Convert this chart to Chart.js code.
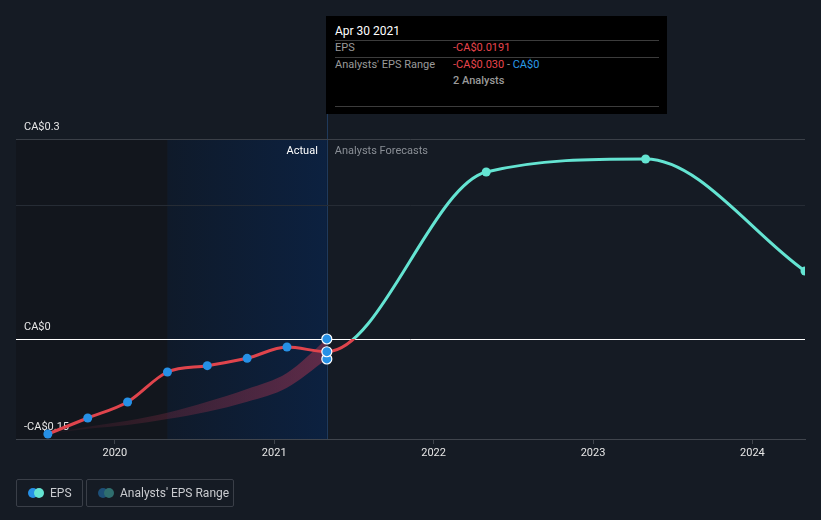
<!DOCTYPE html>
<html>
<head>
<meta charset="utf-8">
<script src="https://cdn.jsdelivr.net/npm/chart.js@4/dist/chart.umd.min.js"></script>
<style>
  body { margin: 0; background: #151b24; font-family: Roboto, sans-serif; }
  #wrap { position: relative; width: 821px; height: 520px; }
  #chart { position: absolute; left: 0; top: 0; }
  .tip { position: absolute; left: 326px; top: 16px; width: 341px; height: 98px; background: #000; }
  .tip div { position: absolute; font-size: 11px; white-space: nowrap; line-height: 14px; }
  .tip .sep { left: 9px; width: 324px; height: 1px; background: #3c3c3c; }
  .legend { position: absolute; top: 479px; height: 26px; border: 1px solid #3a3f48; border-radius: 2px; }
  .legend span.txt { position: absolute; top: 6px; font-size: 12px; color: #c9cbcf; white-space: nowrap; }
  .dot { position: absolute; top: 8px; width: 10px; height: 10px; border-radius: 50%; }
</style>
</head>
<body>
<div id="wrap">
  <canvas id="chart" width="821" height="520"></canvas>
  <div class="tip">
    <div style="left:9px;top:8px;font-size:12px;color:#fff">Apr 30 2021</div>
    <div class="sep" style="top:24px"></div>
    <div style="left:9px;top:25px;color:#9a9a9a">EPS</div>
    <div style="left:127px;top:25px;color:#e8454d">-CA$0.0191</div>
    <div class="sep" style="top:41px"></div>
    <div style="left:9px;top:42px;color:#9a9a9a">Analysts' EPS Range</div>
    <div style="left:127px;top:42px"><span style="color:#e8454d">-CA$0.030</span><span style="color:#9a9a9a"> - </span><span style="color:#2a9be8">CA$0</span></div>
    <div style="left:127px;top:58px;color:#9a9a9a;font-weight:500">2 Analysts</div>
    <div class="sep" style="top:90px"></div>
  </div>
  <div class="legend" style="left:16px;width:65px">
    <div class="dot" style="left:11px;background:#2690e6"></div>
    <div class="dot" style="left:17px;background:#64e4d2"></div>
    <span class="txt" style="left:33px">EPS</span>
  </div>
  <div class="legend" style="left:86px;width:146px">
    <div class="dot" style="left:11px;background:#1d4f77"></div>
    <div class="dot" style="left:17px;background:#2f6e6e"></div>
    <span class="txt" style="left:33px">Analysts' EPS Range</span>
  </div>
</div>
<script>
// dates as fractional years
var actualDates = [2019.58, 2019.83, 2020.08, 2020.33, 2020.58, 2020.83, 2021.08, 2021.33];
var actualEps = [-0.1425, -0.1185, -0.0945, -0.0495, -0.040, -0.029, -0.012, -0.0191];
var forecastDates = [2022.33, 2023.33, 2024.33];
var forecastEps = [0.2505, 0.27, 0.102];
var rangeDates = [2019.58, 2019.83, 2020.08, 2020.33, 2020.58, 2020.83, 2021.08, 2021.33];
var rangeLow = [-0.142, -0.1345, -0.129, -0.12, -0.109, -0.094, -0.073, -0.030];
var rangeHigh = [-0.142, -0.1315, -0.1225, -0.1105, -0.094, -0.075, -0.051, 0];
var yearTicks = [2020, 2021, 2022, 2023, 2024];
var yTicks = [-0.15, 0, 0.2, 0.3];
var yLabels = {'-0.15': '-CA$0.15', '0': 'CA$0', '0.3': 'CA$0.3'};

var nowDate = 2021.33;
var pastStart = 2020.33;

const RED = '#e0444c';
const TEAL = '#64e4d2';
const BLUE = '#2690e6';

const epsPoints = [];
actualDates.forEach((d, i) => epsPoints.push({x: d, y: actualEps[i]}));
forecastDates.forEach((d, i) => epsPoints.push({x: d, y: forecastEps[i]}));
const lastIdx = actualDates.length - 1;

function pts(xs, ys) {
    return xs.map((x, i) => ({x: x, y: ys[i]}));
}

function lineColor(context) {
    const chart = context.chart;
    const area = chart.chartArea;
    if (!area) return RED;
    const y0 = chart.scales.y.getPixelForValue(0);
    const stop = Math.min(1, Math.max(0, (y0 - area.top) / (area.bottom - area.top)));
    const g = chart.ctx.createLinearGradient(0, area.top, 0, area.bottom);
    g.addColorStop(0, TEAL);
    g.addColorStop(stop, TEAL);
    g.addColorStop(stop, RED);
    g.addColorStop(1, RED);
    return g;
}

function bandColor(context) {
    const chart = context.chart;
    const area = chart.chartArea;
    if (!area) return 'rgba(140,45,70,0.5)';
    const xs = chart.scales.x;
    const g = chart.ctx.createLinearGradient(xs.getPixelForValue(rangeDates[0]), 0, xs.getPixelForValue(nowDate), 0);
    g.addColorStop(0, 'rgba(140,45,70,0.08)');
    g.addColorStop(1, 'rgba(150,50,78,0.6)');
    return g;
}

// shaded past areas, divider and the Actual / Forecast captions
const backdrop = {
    id: 'backdrop',
    beforeDraw(chart) {
        const ctx = chart.ctx;
        const area = chart.chartArea;
        const xs = chart.scales.x, ys = chart.scales.y;
        const top = ys.getPixelForValue(0.3);
        const xPast = xs.getPixelForValue(pastStart);
        const xNow = xs.getPixelForValue(nowDate);
        ctx.save();
        ctx.fillStyle = '#12161d';
        ctx.fillRect(area.left, top, xPast - area.left, area.bottom - top);
        const g = ctx.createLinearGradient(xPast, 0, xNow, 0);
        g.addColorStop(0, '#0f1a2a');
        g.addColorStop(1, '#0c2140');
        ctx.fillStyle = g;
        ctx.fillRect(xPast, top, xNow - xPast, area.bottom - top);
        ctx.strokeStyle = '#1f3a5c';
        ctx.lineWidth = 1;
        ctx.beginPath();
        ctx.moveTo(Math.round(xNow) + 0.5, area.top);
        ctx.lineTo(Math.round(xNow) + 0.5, area.bottom);
        ctx.stroke();
        ctx.font = '11px Roboto, sans-serif';
        ctx.textBaseline = 'middle';
        ctx.textAlign = 'right';
        ctx.fillStyle = '#ffffff';
        ctx.fillText('Actual', xNow - 9, top + 12);
        ctx.textAlign = 'left';
        ctx.fillStyle = '#8a8f96';
        ctx.fillText('Analysts Forecasts', xNow + 8, top + 12);
        ctx.restore();
    }
};

new Chart(document.getElementById('chart'), {
    type: 'line',
    data: {
        datasets: [
            {
                label: 'EPS',
                data: epsPoints,
                borderColor: lineColor,
                borderWidth: 3,
                cubicInterpolationMode: 'monotone',
                pointRadius: epsPoints.map((p, i) => i === lastIdx ? 5 : 4.5),
                pointBackgroundColor: epsPoints.map((p, i) => i <= lastIdx ? BLUE : TEAL),
                pointBorderColor: epsPoints.map((p, i) => i === lastIdx ? '#ffffff' : 'rgba(0,0,0,0)'),
                pointBorderWidth: epsPoints.map((p, i) => i === lastIdx ? 1.2 : 0),
                fill: false
            },
            {
                label: 'Range low',
                data: pts(rangeDates, rangeLow),
                borderWidth: 0,
                borderColor: 'rgba(0,0,0,0)',
                cubicInterpolationMode: 'monotone',
                pointRadius: rangeDates.map((d, i) => i === rangeDates.length - 1 ? 5 : 0),
                pointBackgroundColor: BLUE,
                pointBorderColor: '#ffffff',
                pointBorderWidth: 1.2,
                fill: false
            },
            {
                label: "Analysts' EPS Range",
                data: pts(rangeDates, rangeHigh),
                borderWidth: 0,
                borderColor: 'rgba(0,0,0,0)',
                backgroundColor: bandColor,
                cubicInterpolationMode: 'monotone',
                pointRadius: rangeDates.map((d, i) => i === rangeDates.length - 1 ? 5 : 0),
                pointBackgroundColor: BLUE,
                pointBorderColor: '#ffffff',
                pointBorderWidth: 1.2,
                fill: 1
            }
        ]
    },
    options: {
        responsive: false,
        animation: false,
        layout: { padding: { top: 114, left: 16, right: 16, bottom: 0 } },
        plugins: { legend: { display: false }, tooltip: { enabled: false } },
        scales: {
            x: {
                type: 'linear',
                min: 2019.38,
                max: 2024.33,
                afterBuildTicks: s => { s.ticks = yearTicks.map(v => ({value: v})); },
                afterFit: s => { s.height = 81; },
                ticks: {
                    color: '#e6e6e6',
                    font: { family: 'Roboto', size: 11 },
                    padding: 3,
                    callback: v => String(v)
                },
                grid: { drawOnChartArea: false, drawTicks: true, tickLength: 5, color: '#40454d' },
                border: { color: '#40454d', width: 1 }
            },
            y: {
                min: -0.15,
                max: 0.3375,
                afterBuildTicks: s => { s.ticks = yTicks.map(v => ({value: v})); },
                afterFit: s => { s.width = 0; },
                ticks: {
                    mirror: true,
                    padding: 8,
                    labelOffset: -12,
                    color: '#e6e6e6',
                    font: { family: 'Roboto', size: 11 },
                    callback: v => yLabels[String(v)] || ''
                },
                grid: {
                    drawTicks: false,
                    color: c => {
                        const v = c.tick ? c.tick.value : null;
                        if (v === 0.2) return '#262c35';
                        if (v === 0.3) return '#3b4048';
                        if (v === 0) return '#ffffff';
                        return 'rgba(0,0,0,0)';
                    }
                },
                border: { display: false }
            }
        }
    },
    plugins: [backdrop]
});
</script>
</body>
</html>
